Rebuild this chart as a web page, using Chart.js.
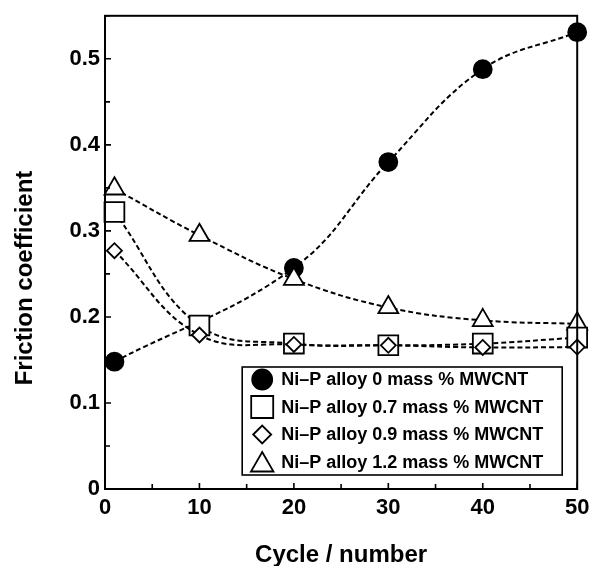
<!DOCTYPE html>
<html>
<head>
<meta charset="utf-8">
<script src="https://cdn.jsdelivr.net/npm/chart.js@4.4.0/dist/chart.umd.min.js"></script>
<style>
  body { margin: 0; background: #fff; }
  canvas { display: block; }
</style>
</head>
<body>
<canvas id="FrictionChart" width="593" height="566"></canvas>
<script>
// data
var cycles = [1, 10, 20, 30, 40, 50];
var seriesNames = [
  "Ni\u2013P alloy 0 mass % MWCNT",
  "Ni\u2013P alloy 0.7 mass % MWCNT",
  "Ni\u2013P alloy 0.9 mass % MWCNT",
  "Ni\u2013P alloy 1.2 mass % MWCNT"
];
var mwcnt0 = [0.148, null, 0.257, 0.380, 0.488, 0.531];
var mwcnt07 = [0.322, 0.190, 0.169, 0.167, 0.169, 0.176];
var mwcnt09 = [0.277, 0.179, 0.168, 0.167, 0.1645, 0.165];
var mwcnt12 = [0.349, 0.295, 0.244, 0.211, 0.196, 0.192];
var xTicks = [0, 10, 20, 30, 40, 50];
var yTicks = [0, 0.1, 0.2, 0.3, 0.4, 0.5];
var xTitle = 'Cycle / number';
var yTitle = 'Friction coefficient';

function pts(vals) {
  return cycles.map(function (c, i) { return { x: c, y: vals[i] }; });
}

var FONT = "'Liberation Sans', Arial, sans-serif";

// marker look (plot + legend)
var markers = [
  { style: 'circle', radius: 9, fill: '#000', legendSize: 10 },
  { style: 'rect', radius: 14, fill: '#fff', legendSize: 11 },
  { style: 'rectRot', radius: 7.5, fill: '#fff', legendSize: 9 },
  { style: 'triangle', radius: 11.5, fill: '#fff', legendSize: 12.5 }
];
var allVals = [mwcnt0, mwcnt07, mwcnt09, mwcnt12];
var drawOrder = [3, 1, 0, 2]; // circle under, diamond on top

var datasets = allVals.map(function (v, i) {
  return {
    label: seriesNames[i],
    data: pts(v),
    order: drawOrder[i],
    clip: false,
    borderColor: '#000',
    borderWidth: 2,
    borderDash: [5, 3],
    tension: 0.4,
    spanGaps: true,
    pointStyle: markers[i].style,
    pointRadius: markers[i].radius,
    pointBackgroundColor: markers[i].fill,
    pointBorderColor: '#000',
    pointBorderWidth: 1.8
  };
});

// inward ticks + frame around plot + rotated y title
var frameTicks = {
  id: 'frameTicks',
  afterDraw: function (chart) {
    var ctx = chart.ctx, a = chart.chartArea;
    var xs = chart.scales.x, ys = chart.scales.y;
    ctx.save();
    ctx.strokeStyle = '#000';
    ctx.lineWidth = 2;
    ctx.strokeRect(a.left, a.top, a.right - a.left, a.bottom - a.top);
    ctx.lineWidth = 1.6;
    ctx.beginPath();
    xTicks.forEach(function (t, i) {
      var px = xs.getPixelForValue(t);
      ctx.moveTo(px, a.bottom); ctx.lineTo(px, a.bottom - 6);
      if (i < xTicks.length - 1) {
        var mx = xs.getPixelForValue(t + 5);
        ctx.moveTo(mx, a.bottom); ctx.lineTo(mx, a.bottom - 5);
      }
    });
    yTicks.forEach(function (t) {
      var py = ys.getPixelForValue(t);
      ctx.moveTo(a.left, py); ctx.lineTo(a.left + 6, py);
      var my = ys.getPixelForValue(t + 0.05);
      ctx.moveTo(a.left, my); ctx.lineTo(a.left + 5, my);
    });
    ctx.stroke();

    ctx.translate(25, 278);
    ctx.rotate(-Math.PI / 2);
    ctx.fillStyle = '#000';
    ctx.font = 'bold 24px ' + FONT;
    ctx.textAlign = 'center';
    ctx.textBaseline = 'middle';
    ctx.fillText(yTitle, 0, 0);
    ctx.restore();
  }
};

function marker(ctx, style, x, y, r) {
  ctx.beginPath();
  if (style === 'circle') {
    ctx.arc(x, y, r, 0, Math.PI * 2);
  } else if (style === 'rect') {
    ctx.rect(x - r, y - r, 2 * r, 2 * r);
  } else if (style === 'rectRot') {
    ctx.moveTo(x - r, y); ctx.lineTo(x, y - r); ctx.lineTo(x + r, y); ctx.lineTo(x, y + r); ctx.closePath();
  } else {
    var h = r * 0.8;
    ctx.moveTo(x, y - h); ctx.lineTo(x + r * 0.9, y + h * 0.95); ctx.lineTo(x - r * 0.9, y + h * 0.95); ctx.closePath();
  }
  ctx.fill();
  ctx.stroke();
}

var boxLegend = {
  id: 'boxLegend',
  afterDraw: function (chart) {
    var ctx = chart.ctx, a = chart.chartArea;
    var right = a.right - 15, bottom = a.bottom - 14;
    var w = 320, h = 108;
    var left = right - w, top = bottom - h;
    ctx.save();
    ctx.fillStyle = '#fff';
    ctx.fillRect(left, top, w, h);
    ctx.strokeStyle = '#000';
    ctx.lineWidth = 1.6;
    ctx.strokeRect(left, top, w, h);
    ctx.font = 'bold 18px ' + FONT;
    ctx.textBaseline = 'middle';
    chart.data.datasets.forEach(function (ds, i) {
      var cy = top + 12.5 + i * 27.5;
      ctx.fillStyle = markers[i].fill;
      ctx.lineWidth = 1.8;
      marker(ctx, markers[i].style, left + 20, cy, markers[i].legendSize);
      ctx.fillStyle = '#000';
      ctx.fillText(ds.label, left + 39, cy + 1);
    });
    ctx.restore();
  }
};

var ctx = document.getElementById('FrictionChart');
var FrictionChart = new Chart(ctx, {
  type: 'line',
  data: { datasets: datasets },
  plugins: [frameTicks, boxLegend],
  options: {
    responsive: false,
    animation: false,
    layout: { padding: { left: 0, right: 14, top: 13, bottom: 0 } },
    plugins: { legend: { display: false }, tooltip: { enabled: false } },
    scales: {
      x: {
        type: 'linear',
        min: 0, max: 50,
        grid: { display: false, drawTicks: false },
        border: { display: false },
        afterBuildTicks: function (s) { s.ticks = xTicks.map(function (v) { return { value: v }; }); },
        afterFit: function (s) { s.height = 77; s.paddingLeft = 0; s.paddingRight = 0; },
        ticks: {
          color: '#000', padding: 6,
          font: { family: FONT, size: 22, weight: 'bold' },
          callback: function (v) { return String(v); }
        },
        title: {
          display: true, text: xTitle, color: '#000',
          font: { family: FONT, size: 24, weight: 'bold' },
          padding: { top: 0, bottom: -4 }
        }
      },
      y: {
        min: 0, max: 0.55,
        grid: { display: false, drawTicks: false },
        border: { display: false },
        afterBuildTicks: function (s) { s.ticks = yTicks.map(function (v) { return { value: v }; }); },
        afterFit: function (s) { s.width = 105; s.paddingTop = 0; s.paddingBottom = 0; },
        ticks: {
          color: '#000', padding: 5,
          font: { family: FONT, size: 22, weight: 'bold' },
          callback: function (v) { return v === 0 ? '0' : v.toFixed(1); }
        },
        title: { display: false }
      }
    }
  }
});
</script>
</body>
</html>
